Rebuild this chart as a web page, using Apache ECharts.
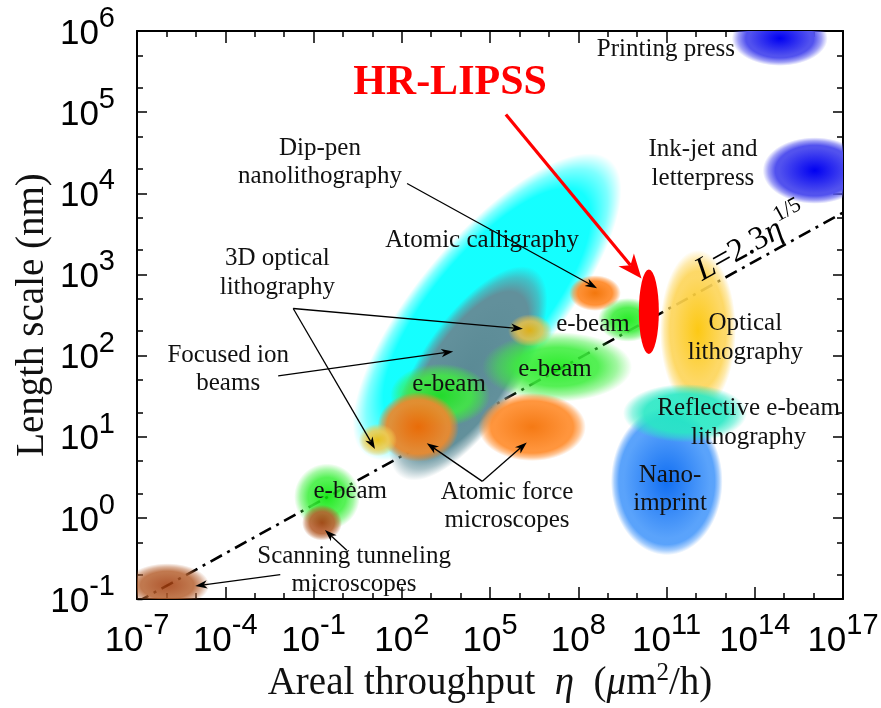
<!DOCTYPE html>
<html>
<head>
<meta charset="utf-8">
<script src="https://cdn.jsdelivr.net/npm/echarts@6/dist/echarts.min.js"></script>
<style>
  html, body { margin: 0; padding: 0; background: #ffffff; }
  #chart { width: 881px; height: 708px; }
</style>
</head>
<body>
<div id="chart"></div>
<script>
// Patterning techniques on the areal-throughput / length-scale map.
// All values are decade exponents: log10(eta in um^2/h) and log10(L in nm).

// Regions, listed from back to front.
const regionNames = [
  'dipPen', 'ionBeam', 'ebeamLow', 'stmTip', 'stmLow', 'ebeamMid', 'afmLeft',
  'optical3dLow', 'ebeamWide', 'afmRight', 'optical3dHigh', 'calligraphy',
  'ebeamHigh', 'opticalLitho', 'nanoimprint', 'reflectiveEbeam', 'hrLipss',
  'inkjet', 'printingPress'
];
// centre of each region
const regionLogEta = [4.90, 4.25, -0.54, -0.71, -5.97, 3.31, 2.56, 1.19, 7.28, 6.43, 6.36, 8.57, 9.69, 12.07, 11.01, 11.63, 10.40, 16.04, 14.85];
const regionLogL   = [2.60, 1.78, 0.26, -0.06, -0.83, 1.51, 1.12, 0.96, 1.86, 1.12, 2.31, 2.77, 2.44, 2.31, 0.45, 1.29, 2.54, 4.28, 5.91];
// half extent of each region, in decades along its own axes
const regionSpanEta = [6.52, 4.20, 1.12, 0.68, 1.43, 1.70, 1.39, 0.65, 2.55, 1.83, 0.75, 0.88, 1.02, 1.29, 1.90, 2.11, 0.34, 1.77, 1.63];
const regionSpanL   = [0.86, 0.62, 0.41, 0.22, 0.27, 0.39, 0.43, 0.20, 0.43, 0.42, 0.20, 0.22, 0.27, 0.99, 0.91, 0.36, 0.52, 0.41, 0.34];
// tilt of the long axis, degrees counter-clockwise
const regionTilt    = [50, 57, 0, 0, 0, 0, 0, 0, 0, 0, 0, 0, 0, 0, 0, 0, 0, 0, 0];

// Scaling law drawn as the dash-dot guide: L = 2.3 * eta^(1/5)
const lawCoef = 2.3;
const lawPower = 1 / 5;
const lawLogEta = [-7, 17];

// Axis ticks (exponents)
const xMajorTicks = [-7, -4, -1, 2, 5, 8, 11, 14, 17];
const xMinorTicks = [];
for (let e = -7; e <= 17; e++) xMinorTicks.push(e);
const yMajorTicks = [-1, 0, 1, 2, 3, 4, 5, 6];
const yMinorTicks = [];
for (let e = -1; e < 6; e++) { yMinorTicks.push(e + Math.log10(2), e + Math.log10(5)); }

// Text labels
const labelTexts = [
  'Printing press', 'Ink-jet and\nletterpress', 'Dip-pen\nnanolithography',
  'Atomic calligraphy', '3D optical\nlithography', 'Focused ion\nbeams',
  'e-beam', 'e-beam', 'e-beam', 'e-beam', 'Optical\nlithography',
  'Reflective e-beam\nlithography', 'Nano-\nimprint', 'Atomic force\nmicroscopes',
  'Scanning tunneling\nmicroscopes'
];

// ---- styling / layout (kept apart from the values above) ----
const regionStyle = {
  dipPen:          { c: '#00ffff', e: '#00ffff', soft: 16, op: 0.92 },
  ionBeam:         { c: '#5a8a95', e: '#62909b', soft: 12, op: 1 },
  ebeamLow:        { c: '#00e600', e: '#3ef03e', soft: 14, op: 0.88 },
  stmTip:          { c: '#a23a0a', e: '#b5602f', soft: 7,  op: 0.9 },
  stmLow:          { c: '#a23a0a', e: '#b5602f', soft: 8,  op: 0.85 },
  ebeamMid:        { c: '#18e818', e: '#40ec40', soft: 12, op: 0.85 },
  afmLeft:         { c: '#f06a00', e: '#e98a30', soft: 8,  op: 0.95 },
  optical3dLow:    { c: '#f6b800', e: '#f0cc50', soft: 7,  op: 0.88 },
  ebeamWide:       { c: '#10ea10', e: '#3cee3c', soft: 16, op: 0.88 },
  afmRight:        { c: '#f46e00', e: '#ff8c2c', soft: 8,  op: 0.92 },
  optical3dHigh:   { c: '#f4b400', e: '#e8c24a', soft: 7,  op: 0.85 },
  calligraphy:     { c: '#f27000', e: '#ff8a2a', soft: 6,  op: 0.95 },
  ebeamHigh:       { c: '#10ea10', e: '#3cee3c', soft: 10, op: 0.9 },
  opticalLitho:    { c: '#fcc400', e: '#fdd55a', soft: 10, op: 0.92 },
  nanoimprint:     { c: '#0a6af2', e: '#55a0fb', soft: 8,  op: 0.97 },
  reflectiveEbeam: { c: '#1eeac0', e: '#28e8c4', soft: 10, op: 0.9 },
  hrLipss:         { c: '#ff0000', e: '#ff0000', soft: 0,  op: 1 },
  inkjet:          { c: '#0000f2', e: '#5252ee', soft: 8,  op: 1 },
  printingPress:   { c: '#0000f2', e: '#5252ee', soft: 8,  op: 1 }
};

const labelAnchors = [
  [10.98, 5.77], [12.24, 4.36], [-0.78, 4.38], [4.73, 3.42], [-2.23, 3.02],
  [-3.90, 1.83], [3.61, 1.64], [8.50, 2.38], [7.21, 1.83], [0.25, 0.32],
  [13.68, 2.22], [13.79, 1.17], [11.12, 0.35], [5.58, 0.14], [0.38, -0.65]
];

// pointer lines: from [logEta, logL] to [logEta, logL], kind 0 = black, 1 = red
const pointers = [
  [2.18, 4.12, 8.64, 2.83, 0],
  [-1.69, 2.58, 6.12, 2.33, 0],
  [-1.69, 2.58, 1.09, 0.85, 0],
  [-2.20, 1.75, 3.75, 2.05, 0],
  [4.74, 0.45, 2.85, 0.92, 0],
  [4.74, 0.45, 6.25, 0.93, 0],
  [0.13, -0.40, -0.61, -0.15, 0],
  [-2.13, -0.70, -5.02, -0.84, 0],
  [5.54, 4.97, 10.15, 2.95, 1]
];
const pointerStyle = [
  { color: '#000000', width: 1.3, head: 12, half: 4.2 },
  { color: '#ff0000', width: 3.2, head: 24, half: 10 }
];

const titleAnchor = [3.64, 5.36];
const lawLabelAnchor = [13.90, 3.38];

const SERIF = '"Liberation Serif", "Times New Roman", serif';
const SANS = '"Liberation Sans", Arial, sans-serif';

function hexToRgba(hex, a) {
  const n = parseInt(hex.slice(1), 16);
  return 'rgba(' + ((n >> 16) & 255) + ',' + ((n >> 8) & 255) + ',' + (n & 255) + ',' + a + ')';
}

function renderRegion(params, api) {
  const cx = api.value(0), cy = api.value(1);
  const hx = api.value(2), hy = api.value(3);
  const tilt = api.value(4);
  const st = regionStyle[regionNames[api.value(5)]];
  const c = api.coord([cx, cy]);
  const px = api.coord([cx + hx, cy]);
  const py = api.coord([cx, cy + hy]);
  const rx = Math.abs(px[0] - c[0]);
  const ry = Math.abs(c[1] - py[1]);
  let fill;
  if (st.soft > 0) {
    const f = Math.min(0.45, st.soft / Math.min(rx, ry));
    fill = {
      type: 'radial', x: 0.5, y: 0.5, r: 0.5, global: false,
      colorStops: [
        { offset: 0, color: st.c },
        { offset: (1 - f) * 0.9, color: st.e },
        { offset: 1 - f, color: st.e },
        { offset: 1 - f * 0.45, color: hexToRgba(st.e, 0.55) },
        { offset: 1, color: hexToRgba(st.e, 0) }
      ]
    };
  } else {
    fill = st.c;
  }
  return {
    type: 'circle',
    x: c[0], y: c[1],
    scaleY: ry / rx,
    rotation: tilt * Math.PI / 180,
    shape: { cx: 0, cy: 0, r: rx },
    style: { fill: fill, opacity: st.op }
  };
}

function renderPointer(params, api) {
  const a = api.coord([api.value(0), api.value(1)]);
  const b = api.coord([api.value(2), api.value(3)]);
  const st = pointerStyle[api.value(4)];
  const dx = b[0] - a[0], dy = b[1] - a[1];
  const len = Math.hypot(dx, dy);
  const ux = dx / len, uy = dy / len;
  const nx = -uy, ny = ux;
  const base = [b[0] - ux * st.head, b[1] - uy * st.head];
  const notch = [b[0] - ux * st.head * 0.72, b[1] - uy * st.head * 0.72];
  return {
    type: 'group',
    children: [
      {
        type: 'line',
        shape: { x1: a[0], y1: a[1], x2: notch[0], y2: notch[1] },
        style: { stroke: st.color, lineWidth: st.width }
      },
      {
        type: 'polygon',
        shape: { points: [
          [b[0], b[1]],
          [base[0] + nx * st.half, base[1] + ny * st.half],
          notch,
          [base[0] - nx * st.half, base[1] - ny * st.half]
        ] },
        style: { fill: st.color }
      }
    ]
  };
}

function renderLabel(params, api) {
  const p = api.coord([api.value(0), api.value(1)]);
  return {
    type: 'text',
    x: p[0], y: p[1],
    style: {
      text: labelTexts[api.value(2)],
      fill: '#111111',
      fontFamily: SERIF,
      fontSize: 25,
      lineHeight: 28.5,
      align: 'center',
      verticalAlign: 'middle'
    }
  };
}

function renderTitle(params, api) {
  const p = api.coord([api.value(0), api.value(1)]);
  return {
    type: 'text', x: p[0], y: p[1],
    style: {
      text: 'HR-LIPSS', fill: '#ff0000', fontFamily: SERIF, fontWeight: 'bold',
      fontSize: 42, align: 'center', verticalAlign: 'middle'
    }
  };
}

function renderLawLabel(params, api) {
  const p = api.coord([api.value(0), api.value(1)]);
  return {
    type: 'text', x: p[0], y: p[1],
    rotation: 29 * Math.PI / 180,
    style: {
      text: '{i|L}{n|=2.3}{i|η}{s|1/5}',
      align: 'center', verticalAlign: 'middle',
      rich: {
        i: { fontFamily: SERIF, fontStyle: 'italic', fontSize: 33, fill: '#000', lineHeight: 34 },
        n: { fontFamily: SERIF, fontSize: 33, fill: '#000', lineHeight: 34 },
        s: { fontFamily: SERIF, fontSize: 22, fill: '#000', lineHeight: 24, padding: [0, 0, 24, 0] }
      }
    }
  };
}

// "10" followed by a raised exponent
const supRich = {
  b: { fontFamily: SANS, fontSize: 35, color: '#000', lineHeight: 36, padding: [6, 0, 0, 0] },
  s: { fontFamily: SANS, fontSize: 29, color: '#000', lineHeight: 30, padding: [0, 0, 24, 0] }
};
const powerLabel = v => '{b|10}{s|' + Math.round(v) + '}';

function xAxisDef(position, ticks, len, withLabels) {
  const ax = {
    type: 'value', min: -7, max: 17, position: position,
    axisLine: { show: len > 8, onZero: false, lineStyle: { color: '#000', width: 2 } },
    axisTick: { show: true, inside: true, length: len, customValues: ticks, lineStyle: { color: '#000', width: 1.5 } },
    axisLabel: { show: false },
    splitLine: { show: false }
  };
  if (withLabels) {
    ax.axisLabel = { show: true, customValues: xMajorTicks, formatter: powerLabel, rich: supRich, margin: 21 };
    ax.name = '{t|Areal throughput  }{i|η}{t|  (}{i|μ}{t|m}{u|2}{t|/h)}';
    ax.nameLocation = 'middle';
    ax.nameGap = 65;
    ax.nameMoveOverlap = false;
    ax.nameTextStyle = {
      rich: {
        t: { fontFamily: SERIF, fontSize: 39, color: '#111', lineHeight: 40 },
        i: { fontFamily: SERIF, fontStyle: 'italic', fontSize: 39, color: '#111', lineHeight: 40 },
        u: { fontFamily: SERIF, fontSize: 25, color: '#111', lineHeight: 26, padding: [0, 0, 22, 0] }
      }
    };
  }
  return ax;
}

function yAxisDef(position, ticks, len, withLabels) {
  const ax = {
    type: 'value', min: -1, max: 6, position: position,
    axisLine: { show: len > 8, onZero: false, lineStyle: { color: '#000', width: 2 } },
    axisTick: { show: true, inside: true, length: len, customValues: ticks, lineStyle: { color: '#000', width: 1.5 } },
    axisLabel: { show: false },
    splitLine: { show: false }
  };
  if (withLabels) {
    ax.axisLabel = { show: true, customValues: yMajorTicks, formatter: powerLabel, rich: supRich, margin: 22 };
    ax.name = 'Length scale (nm)';
    ax.nameLocation = 'middle';
    ax.nameGap = 85;
    ax.nameMoveOverlap = false;
    ax.nameTextStyle = { fontFamily: SERIF, fontSize: 39, color: '#111' };
  }
  return ax;
}

const chart = echarts.init(document.getElementById('chart'), null, { renderer: 'canvas' });

chart.setOption({
  animation: false,
  backgroundColor: '#ffffff',
  grid: { left: 137, right: 38, top: 31, bottom: 109, containLabel: false, outerBoundsMode: 'none' },
  xAxis: [
    xAxisDef('bottom', xMajorTicks, 12, true),
    xAxisDef('bottom', xMinorTicks, 6, false),
    xAxisDef('top', xMajorTicks, 12, false),
    xAxisDef('top', xMinorTicks, 6, false)
  ],
  yAxis: [
    yAxisDef('left', yMajorTicks, 10, true),
    yAxisDef('left', yMinorTicks, 6, false),
    yAxisDef('right', yMajorTicks, 10, false),
    yAxisDef('right', yMinorTicks, 6, false)
  ],
  series: [
    {
      type: 'line', name: 'scaling law', z: 1,
      xAxisIndex: 0, yAxisIndex: 0, clip: true, symbol: 'none', silent: true,
      lineStyle: { color: '#000', width: 2.6, type: [13, 6, 3, 6] },
      data: lawLogEta.map(e => [e, Math.log10(lawCoef) + lawPower * e])
    },
    {
      type: 'custom', name: 'regions', z: 2, clip: true, silent: true,
      xAxisIndex: 0, yAxisIndex: 0,
      renderItem: renderRegion,
      data: regionNames.map((n, i) => [regionLogEta[i], regionLogL[i], regionSpanEta[i], regionSpanL[i], regionTilt[i], i])
    },
    {
      type: 'custom', name: 'pointers', z: 4, clip: false, silent: true,
      xAxisIndex: 0, yAxisIndex: 0,
      renderItem: renderPointer,
      data: pointers
    },
    {
      type: 'custom', name: 'labels', z: 5, clip: false, silent: true,
      xAxisIndex: 0, yAxisIndex: 0,
      renderItem: renderLabel,
      data: labelAnchors.map((p, i) => [p[0], p[1], i])
    },
    {
      type: 'custom', name: 'title', z: 5, clip: false, silent: true,
      xAxisIndex: 0, yAxisIndex: 0,
      renderItem: renderTitle,
      data: [titleAnchor]
    },
    {
      type: 'custom', name: 'law label', z: 5, clip: false, silent: true,
      xAxisIndex: 0, yAxisIndex: 0,
      renderItem: renderLawLabel,
      data: [lawLabelAnchor]
    }
  ]
});
</script>
</body>
</html>
